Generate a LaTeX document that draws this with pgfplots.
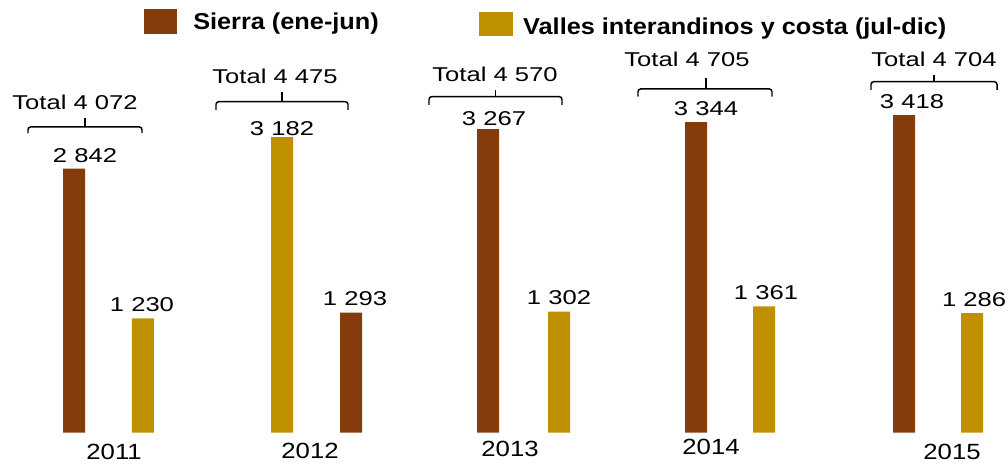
\documentclass[border=0pt]{standalone}
\usepackage{fontspec}
\setmainfont{Liberation Sans}
\newfontfamily\valfont[FakeStretch=1.28]{Liberation Sans}
\newfontfamily\yearfont[FakeStretch=1.17]{Liberation Sans}
\newfontfamily\legfont[FakeStretch=1.1]{Liberation Sans}
\usepackage{pgfplots}
\pgfplotsset{compat=1.18}
\definecolor{brn}{RGB}{132,60,12}
\definecolor{gld}{RGB}{191,144,0}
\begin{document}
\begin{tikzpicture}[
  val/.style={anchor=base, inner sep=0pt, font=\valfont\fontsize{15}{15}\selectfont},
  yr/.style={anchor=base, inner sep=0pt, font=\yearfont\fontsize{16.5}{16.5}\selectfont},
  brace/.style={line width=1.1pt, rounded corners=2pt},
  leg/.style={anchor=base west, inner sep=0pt, font=\legfont\bfseries\fontsize{17.25}{17.25}\selectfont},
]
\begin{axis}[
  scale only axis, width=756pt, height=348.75pt,
  xmin=-0.5231, xmax=4.3370, ymin=-347.6, ymax=4657.7,
  hide axis, clip=false,
  ybar, bar width=16.5pt,
]
% Sierra (ene-jun) and Valles (jul-dic) -- colours as in the source (2012 swapped)
\addplot[fill=brn, draw=none, bar shift=0pt] coordinates
  {(-0.1663,2842) (1.1693,1293) (1.8298,3267) (2.8327,3344) (3.8356,3418)};
\addplot[fill=gld, draw=none, bar shift=0pt] coordinates
  {(0.1663,1230) (0.8366,3182) (2.1722,1302) (3.1606,1361) (4.1640,1286)};

% value labels
\node[val, xshift=8.25pt] at (axis cs:-0.1663,2907) {2 842};
\node[val, xshift=-0.75pt] at (axis cs:0.1663,1305) {1 230};
\node[val] at (axis cs:0.8366,3204) {3 182};
\node[val, xshift=3pt] at (axis cs:1.1693,1368) {1 293};
\node[val, xshift=4.5pt] at (axis cs:1.8298,3305) {3 267};
\node[val] at (axis cs:2.1722,1377) {1 302};
\node[val, xshift=7.5pt] at (axis cs:2.8327,3414) {3 344};
\node[val, xshift=1.5pt] at (axis cs:3.1606,1436) {1 361};
\node[val, xshift=6pt] at (axis cs:3.8356,3488) {3 418};
\node[val, xshift=1.5pt] at (axis cs:4.1640,1361) {1 286};

% totals
\node[val] at (axis cs:-0.1615,3484) {Total 4 072};
\node[val] at (axis cs:0.8028,3761) {Total 4 475};
\node[val] at (axis cs:1.8636,3778) {Total 4 570};
\node[val] at (axis cs:2.7893,3947) {Total 4 705};
\node[val] at (axis cs:3.9802,3940) {Total 4 704};

% brackets
\draw[brace] (axis cs:-0.3881,3226) -- (axis cs:-0.3881,3291) -- (axis cs:0.1615,3291) -- (axis cs:0.1615,3226);
\draw[line width=1.1pt] (axis cs:-0.1133,3291) -- (axis cs:-0.1133,3388);
\draw[brace] (axis cs:0.5183,3474) -- (axis cs:0.5183,3563) -- (axis cs:1.1548,3563) -- (axis cs:1.1548,3474);
\draw[line width=1.1pt] (axis cs:0.8366,3563) -- (axis cs:0.8366,3671);
\draw[brace] (axis cs:1.5453,3528) -- (axis cs:1.5453,3617) -- (axis cs:2.1866,3617) -- (axis cs:2.1866,3528);
\draw[line width=1.1pt] (axis cs:1.8660,3617) -- (axis cs:1.8660,3689);
\draw[brace] (axis cs:2.5530,3617) -- (axis cs:2.5530,3700) -- (axis cs:3.1991,3700) -- (axis cs:3.1991,3617);
\draw[line width=1.1pt] (axis cs:2.8804,3700) -- (axis cs:2.8804,3818);
\draw[brace] (axis cs:3.6764,3689) -- (axis cs:3.6764,3778) -- (axis cs:4.2840,3778) -- (axis cs:4.2840,3689);
\draw[line width=1.1pt] (axis cs:3.9802,3778) -- (axis cs:3.9802,3850);

% years
\node[yr] at (axis cs:0.0270,-293) {2011};
\node[yr] at (axis cs:0.9716,-278) {2012};
\node[yr] at (axis cs:1.9359,-253) {2013};
\node[yr] at (axis cs:2.9051,-233) {2014};
\node[yr] at (axis cs:4.0670,-293) {2015};

% legend
\fill[brn] (axis cs:0.1712,4560.8) rectangle (axis cs:0.3303,4291.7);
\node[leg] at (axis cs:0.4074,4342.3) {Sierra (ene-jun)};
\fill[gld] (axis cs:1.7864,4528.5) rectangle (axis cs:1.9503,4270.2);
\node[leg] at (axis cs:1.9981,4288.5) {Valles interandinos y costa (jul-dic)};
\end{axis}
\pgfresetboundingbox
\path (current axis.south west) rectangle (current axis.north east);
\end{tikzpicture}
\end{document}
